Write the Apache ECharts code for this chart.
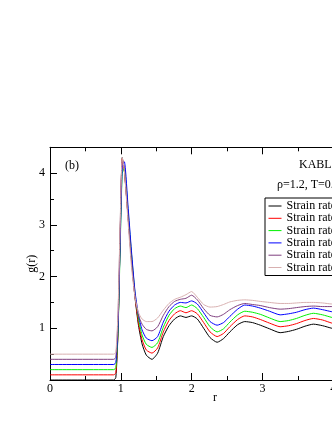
<!DOCTYPE html>
<html><head><meta charset="utf-8">
<script src="https://cdn.jsdelivr.net/npm/echarts@6/dist/echarts.min.js"></script>
<style>html,body{margin:0;padding:0;background:#fff}#c{width:332px;height:430px}</style>
</head><body><div id="c"></div>
<script>
// r grid (shared by all curves)
const r = [0, 0.9, 0.93, 0.96, 0.99, 1.02, 1.05, 1.1, 1.15, 1.2, 1.25, 1.3, 1.36, 1.44, 1.52, 1.6, 1.68, 1.76, 1.84, 1.92, 2.0, 2.08, 2.17, 2.26, 2.36, 2.45, 2.54, 2.65, 2.75, 2.86, 2.97, 3.1, 3.25, 3.37, 3.48, 3.6, 3.72, 3.85, 3.98, 4.1, 4.25];
// g(r) curves (shifted by 0.1 each in the figure)
const g1 = [0, 0, 0.05, 0.9, 2.7, 4.3, 4.05, 3.2, 2.35, 1.6, 1.05, 0.7, 0.48, 0.40, 0.52, 0.84, 1.05, 1.18, 1.24, 1.21, 1.24, 1.18, 1.0, 0.82, 0.73, 0.80, 0.93, 1.07, 1.13, 1.11, 1.06, 0.99, 0.915, 0.94, 0.98, 1.04, 1.08, 1.05, 1.0, 0.97, 0.98];
const g2 = [0.1, 0.1, 0.14, 0.95, 2.7, 4.28, 4.05, 3.2, 2.35, 1.62, 1.1, 0.78, 0.58, 0.52, 0.62, 0.93, 1.15, 1.28, 1.34, 1.30, 1.34, 1.28, 1.11, 0.93, 0.84, 0.90, 1.03, 1.17, 1.24, 1.22, 1.17, 1.10, 1.03, 1.05, 1.09, 1.15, 1.19, 1.16, 1.10, 1.07, 1.08];
const g3 = [0.2, 0.2, 0.24, 0.9, 2.5, 4.0, 4.1, 3.3, 2.45, 1.68, 1.18, 0.87, 0.69, 0.63, 0.72, 1.02, 1.25, 1.38, 1.43, 1.40, 1.45, 1.38, 1.21, 1.03, 0.93, 0.99, 1.12, 1.26, 1.33, 1.31, 1.27, 1.20, 1.13, 1.15, 1.19, 1.25, 1.29, 1.26, 1.21, 1.18, 1.19];
const g4 = [0.3, 0.3, 0.34, 1.0, 2.6, 4.1, 4.22, 3.4, 2.5, 1.72, 1.25, 0.97, 0.81, 0.76, 0.84, 1.12, 1.33, 1.45, 1.50, 1.49, 1.53, 1.47, 1.30, 1.13, 1.06, 1.11, 1.23, 1.37, 1.45, 1.43, 1.39, 1.33, 1.26, 1.28, 1.31, 1.36, 1.39, 1.36, 1.32, 1.30, 1.31];
const g5 = [0.4, 0.4, 0.44, 1.2, 2.9, 4.25, 4.1, 3.2, 2.3, 1.62, 1.25, 1.08, 0.98, 0.95, 1.03, 1.25, 1.42, 1.52, 1.56, 1.58, 1.64, 1.55, 1.38, 1.25, 1.22, 1.27, 1.36, 1.44, 1.48, 1.46, 1.44, 1.40, 1.37, 1.38, 1.40, 1.42, 1.43, 1.42, 1.42, 1.41, 1.41];
const g6 = [0.5, 0.5, 0.54, 1.3, 3.0, 4.3, 4.05, 3.1, 2.2, 1.6, 1.3, 1.18, 1.13, 1.13, 1.2, 1.35, 1.48, 1.56, 1.6, 1.65, 1.71, 1.6, 1.46, 1.41, 1.42, 1.46, 1.51, 1.54, 1.55, 1.54, 1.52, 1.50, 1.48, 1.48, 1.49, 1.50, 1.50, 1.49, 1.47, 1.47, 1.47];
const names = ['Strain rate = 0.00001', 'Strain rate = 0.0001', 'Strain rate = 0.0005', 'Strain rate = 0.001', 'Strain rate = 0.005', 'Strain rate = 0.01'];
const xTicks = [0, 1, 2, 3, 4];
const yTicks = [1, 2, 3, 4];

const curves = [g1, g2, g3, g4, g5, g6];
const palette = ['#000000', '#ff0000', '#00f000', '#0000ff', '#7f3f7f', '#d8b0b0'];
const font = '"Liberation Serif", "DejaVu Serif", serif';

const chart = echarts.init(document.getElementById('c'), null, {renderer: 'canvas'});
const axisCommon = {
  type: 'value', min: 0, interval: 1,
  axisLine: {show: true, onZero: false, lineStyle: {color: '#000', width: 1}},
  axisTick: {show: true, inside: true, length: 7, lineStyle: {color: '#000'}},
  minorTick: {show: true, splitNumber: 2, length: 4, lineStyle: {color: '#000'}},
  splitLine: {show: false}, minorSplitLine: {show: false}
};
chart.setOption({
  animation: false,
  backgroundColor: '#fff',
  grid: {left: 50, top: 147.3, bottom: 50, width: 330, containLabel: false, outerBoundsMode: 'none'},
  xAxis: [
    Object.assign({}, axisCommon, {position: 'bottom', max: 4.66,
      name: 'r', nameLocation: 'middle', nameGap: 12, nameMoveOverlap: false,
      nameTextStyle: {fontFamily: font, fontSize: 12, color: '#000'},
      axisLabel: {show: true, margin: 3, fontFamily: font, fontSize: 12, color: '#000',
        formatter: v => xTicks.includes(v) ? String(v) : ''}}),
    Object.assign({}, axisCommon, {position: 'top', max: 4.66, axisLabel: {show: false}})
  ],
  yAxis: [
    Object.assign({}, axisCommon, {position: 'left', max: 4.5,
      name: 'g(r)', nameLocation: 'middle', nameGap: 12, nameRotate: 90, nameMoveOverlap: false,
      nameTextStyle: {fontFamily: font, fontSize: 12, color: '#000'},
      axisLabel: {show: true, margin: 5, fontFamily: font, fontSize: 12, color: '#000',
        formatter: v => yTicks.includes(v) ? String(v) : ''}}),
    Object.assign({}, axisCommon, {position: 'right', max: 4.5, axisLabel: {show: false}})
  ],
  legend: {
    orient: 'vertical', left: 265, top: 198,
    padding: [2, 3, 2, 3], itemGap: 0.3, itemWidth: 13, itemHeight: 11,
    borderColor: '#000', borderWidth: 1, borderRadius: 0, backgroundColor: '#fff',
    itemStyle: {opacity: 0},
    lineStyle: {width: 1},
    textStyle: {fontFamily: font, fontSize: 12, color: '#000', lineHeight: 11},
    data: names
  },
  graphic: [
    {type: 'text', left: 65, top: 160, style: {text: '(b)', font: '12px ' + font, fill: '#000'}},
    {type: 'text', left: 299, top: 159, style: {text: 'KABLJ', font: '12px ' + font, fill: '#000'}},
    {type: 'text', left: 277, top: 179, style: {text: 'ρ=1.2, T=0.45', font: '12px ' + font, fill: '#000'}}
  ],
  series: curves.map((g, k) => ({
    type: 'line', name: names[k], symbol: 'none', smooth: 0.2,
    color: palette[k], lineStyle: {width: 1, color: palette[k]},
    data: r.map((x, i) => [x, g[i]])
  }))
});
</script></body></html>
